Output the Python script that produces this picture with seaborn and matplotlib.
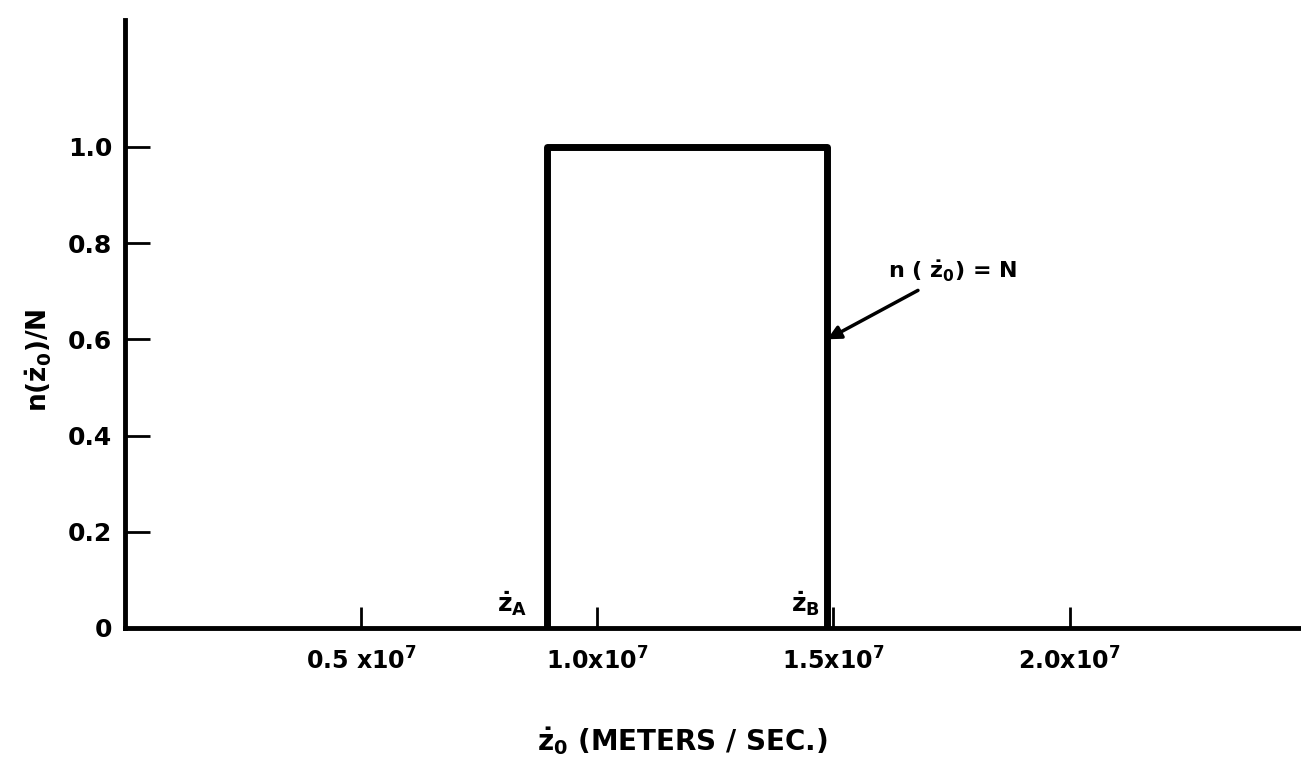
import matplotlib
matplotlib.use("Agg")
import matplotlib.pyplot as plt
import seaborn as sns
import pandas as pd

# pulse edges (m/s) and height (normalised)
z_a = 0.894e7
z_b = 1.487e7
pulse_x = [z_a, z_a, z_b, z_b]
pulse_y = [0.0, 1.0, 1.0, 0.0]

x_ticks = [0.5e7, 1.0e7, 1.5e7, 2.0e7]
x_tick_labels = ["0.5 x10$^7$", "1.0x10$^7$", "1.5x10$^7$", "2.0x10$^7$"]
y_ticks = [0.0, 0.2, 0.4, 0.6, 0.8, 1.0]
y_tick_labels = ["0", "0.2", "0.4", "0.6", "0.8", "1.0"]

sns.set_style("ticks")
plt.rcParams["font.family"] = ["DejaVu Sans"]
plt.rcParams["font.weight"] = "bold"
plt.rcParams["mathtext.default"] = "bf"
plt.rcParams["mathtext.fontset"] = "dejavusans"
for key in ["text.color", "axes.labelcolor", "xtick.color", "ytick.color"]:
    plt.rcParams[key] = "black"

fig = plt.figure(figsize=(13.01, 7.63), dpi=100)
ax = fig.add_axes([0.096, 0.177, 0.904, 0.797])

df = pd.DataFrame({"x": pulse_x, "y": pulse_y})
sns.lineplot(data=df, x="x", y="y", sort=False, estimator=None,
             color="black", linewidth=5, ax=ax)

ax.set_xlim(0, 2.49e7)
ax.set_ylim(0, 1.264)
ax.set_xticks(x_ticks)
ax.set_xticklabels(x_tick_labels, fontsize=17, fontweight="bold")
ax.set_yticks(y_ticks)
ax.set_yticklabels(y_tick_labels, fontsize=18, fontweight="bold")
ax.tick_params(axis="x", direction="in", length=15, width=2, pad=14)
ax.tick_params(axis="y", direction="in", length=18, width=2, pad=9)

sns.despine(ax=ax)
for side in ["left", "bottom"]:
    ax.spines[side].set_linewidth(3.5)
    ax.spines[side].set_color("black")

ax.set_xlabel(r"$\dot{z}_0$ (METERS / SEC.)", fontsize=20, fontweight="bold")
ax.xaxis.set_label_coords(0.474, -0.16)
ax.set_ylabel(r"n($\dot{z}_0$)/N", fontsize=19, fontweight="bold")
ax.yaxis.set_label_coords(-0.06, 0.44)

ax.text(0.82e7, 0.02, r"$\dot{z}_A$", fontsize=18, ha="center", va="bottom")
ax.text(1.44e7, 0.02, r"$\dot{z}_B$", fontsize=18, ha="center", va="bottom")

ax.annotate(r"n ( $\dot{z}_0$) = N", xy=(z_b, 0.6), xytext=(1.615e7, 0.74),
            fontsize=16, ha="left", va="center",
            arrowprops=dict(arrowstyle="-|>", color="black", lw=2.5,
                            shrinkA=4, shrinkB=0, mutation_scale=20))

fig.savefig("out.png", dpi=100)
